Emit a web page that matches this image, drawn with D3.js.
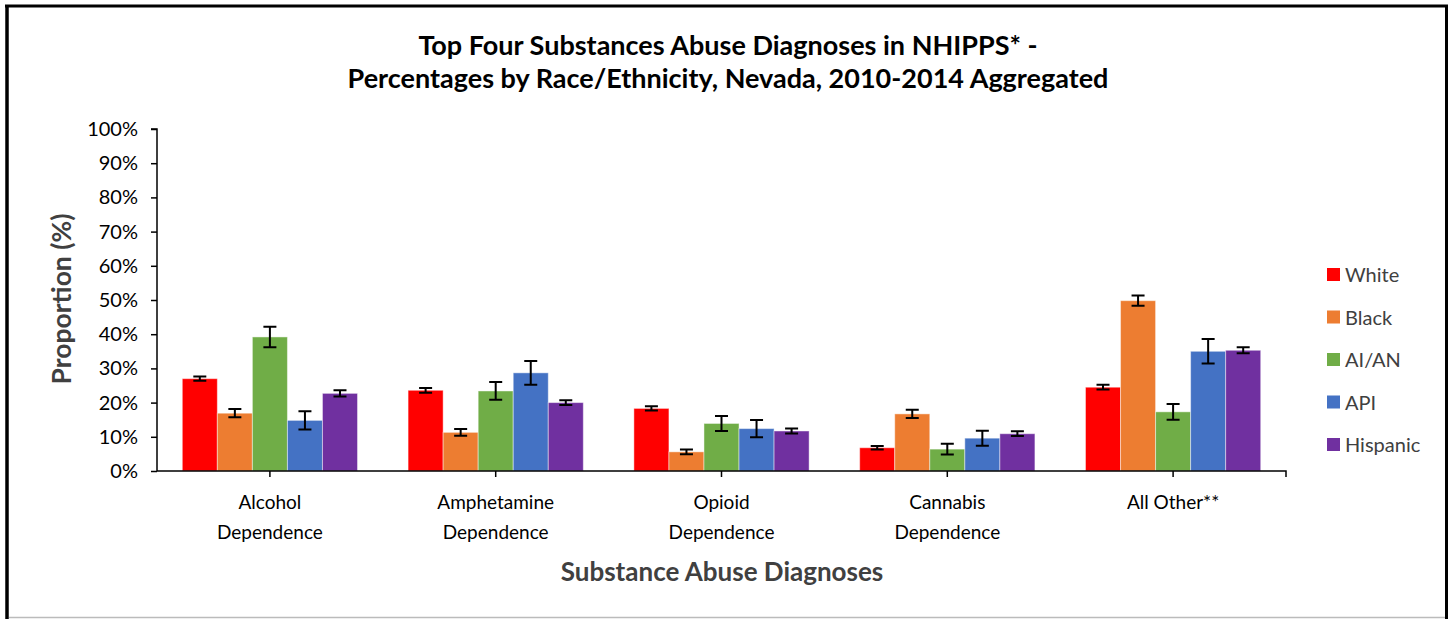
<!DOCTYPE html>
<html>
<head>
<meta charset="utf-8">
<script src="https://cdn.jsdelivr.net/npm/d3@7"></script>
<style>
  body { margin: 0; background: #fff; }
  svg { display: block; font-family: Lato, "Open Sans", sans-serif; }
</style>
</head>
<body>
<div id="chart"></div>
<script>
// categories and series
const categories = ["Alcohol Dependence", "Amphetamine Dependence", "Opioid Dependence", "Cannabis Dependence", "All Other**"];
const categoryLines = [["Alcohol", "Dependence"], ["Amphetamine", "Dependence"], ["Opioid", "Dependence"], ["Cannabis", "Dependence"], ["All Other**"]];
const races = ["White", "Black", "AI/AN", "API", "Hispanic"];
const raceColors = ["#ff0000", "#ed7d31", "#70ad47", "#4472c4", "#7030a0"];

// percentages, one array per race (order follows categories)
const white    = [27.0, 23.6, 18.3, 6.8, 24.5];
const black    = [16.9, 11.3, 5.6, 16.7, 49.8];
const aian     = [39.2, 23.4, 13.9, 6.4, 17.3];
const api      = [14.8, 28.7, 12.4, 9.6, 35.0];
const hispanic = [22.7, 20.0, 11.7, 10.9, 35.3];

// half-width of error bars (percentage points)
const whiteErr    = [0.6, 0.7, 0.6, 0.5, 0.7];
const blackErr    = [1.2, 1.0, 0.7, 1.2, 1.5];
const aianErr     = [3.0, 2.6, 2.2, 1.6, 2.3];
const apiErr      = [2.7, 3.5, 2.5, 2.2, 3.6];
const hispanicErr = [0.9, 0.7, 0.7, 0.7, 0.9];

const yTicks = [0, 10, 20, 30, 40, 50, 60, 70, 80, 90, 100];

const seriesValues = [white, black, aian, api, hispanic];
const seriesErrors = [whiteErr, blackErr, aianErr, apiErr, hispanicErr];

const width = 1450, height = 619;
const plot = {left: 157, right: 1286, top: 129, bottom: 471};

const svg = d3.select("#chart").append("svg")
    .attr("width", width)
    .attr("height", height)
    .attr("viewBox", [0, 0, width, height]);

// outer frame
svg.append("line").attr("x1", 7).attr("x2", 7).attr("y1", 5).attr("y2", 619)
    .attr("stroke", "#000").attr("stroke-width", 3.5);
svg.append("line").attr("x1", 5).attr("x2", 1448).attr("y1", 6).attr("y2", 6)
    .attr("stroke", "#000").attr("stroke-width", 3);
svg.append("line").attr("x1", 1446.5).attr("x2", 1446.5).attr("y1", 5).attr("y2", 619)
    .attr("stroke", "#000").attr("stroke-width", 3);
svg.append("line").attr("x1", 9).attr("x2", 1445).attr("y1", 617.5).attr("y2", 617.5)
    .attr("stroke", "#bbb").attr("stroke-width", 1.5);

const x0 = d3.scaleBand()
    .domain(categories)
    .range([plot.left, plot.right])
    .paddingInner(0.224)
    .paddingOuter(0.112);

const x1 = d3.scaleBand()
    .domain(races)
    .range([0, x0.bandwidth()]);

const y = d3.scaleLinear()
    .domain([0, 100])
    .range([plot.bottom, plot.top]);

const color = d3.scaleOrdinal(races, raceColors);

// title
svg.append("text")
    .attr("x", 728).attr("y", 55)
    .attr("text-anchor", "middle")
    .attr("font-weight", "bold")
    .attr("font-size", 27)
    .attr("fill", "#000")
    .text("Top Four Substances Abuse Diagnoses in NHIPPS* -");
svg.append("text")
    .attr("x", 728).attr("y", 88)
    .attr("text-anchor", "middle")
    .attr("font-weight", "bold")
    .attr("font-size", 27)
    .attr("fill", "#000")
    .text("Percentages by Race/Ethnicity, Nevada, 2010-2014 Aggregated");

// y axis
svg.append("g")
    .attr("transform", `translate(${plot.left},0)`)
    .call(d3.axisLeft(y).tickValues(yTicks).tickFormat(d => d + "%").tickSize(6).tickPadding(13))
    .call(g => g.select(".domain").attr("stroke", "#000").attr("stroke-width", 1.5).attr("d", `M-6,${plot.top}H0V${plot.bottom}`))
    .call(g => g.selectAll(".tick line").attr("stroke", "#000").attr("stroke-width", 1.5))
    .call(g => g.selectAll(".tick text")
        .attr("font-family", "Lato, 'Open Sans', sans-serif")
        .attr("font-size", 20)
        .attr("fill", "#000"));

// bars
const group = svg.append("g")
  .selectAll("g")
  .data(categories)
  .join("g")
    .attr("transform", d => `translate(${x0(d)},0)`);

const cells = group.selectAll("g")
  .data((c, ci) => races.map((r, ri) => ({race: r, value: seriesValues[ri][ci], err: seriesErrors[ri][ci]})))
  .join("g");

cells.append("rect")
    .attr("x", d => x1(d.race))
    .attr("y", d => y(d.value))
    .attr("width", x1.bandwidth())
    .attr("height", d => y(0) - y(d.value))
    .attr("fill", d => color(d.race))
    .attr("stroke", "rgba(255,255,255,0.45)")
    .attr("stroke-width", 1);

// error bars
const capHalf = 6.5;
cells.append("path")
    .attr("fill", "none")
    .attr("stroke", "#000")
    .attr("stroke-width", 2)
    .attr("d", d => {
      const cx = x1(d.race) + x1.bandwidth() / 2;
      const yHi = y(d.value + d.err), yLo = y(d.value - d.err);
      return `M${cx - capHalf},${yHi}H${cx + capHalf}M${cx},${yHi}V${yLo}M${cx - capHalf},${yLo}H${cx + capHalf}`;
    });

// x axis line with ticks at category centres and right end
const xAxis = svg.append("g");
xAxis.append("path")
    .attr("fill", "none")
    .attr("stroke", "#000")
    .attr("stroke-width", 1.5)
    .attr("d", `M${plot.left},${plot.bottom}H${plot.right}V${plot.bottom + 6}`);
xAxis.selectAll("line")
  .data(categories)
  .join("line")
    .attr("x1", d => x0(d) + x0.bandwidth() / 2)
    .attr("x2", d => x0(d) + x0.bandwidth() / 2)
    .attr("y1", plot.bottom)
    .attr("y2", plot.bottom + 6)
    .attr("stroke", "#000")
    .attr("stroke-width", 1.5);

xAxis.selectAll("text")
  .data(categories)
  .join("text")
    .attr("text-anchor", "middle")
    .attr("font-size", 19)
    .attr("fill", "#000")
    .each(function(d, i) {
      const cx = x0(d) + x0.bandwidth() / 2;
      d3.select(this).selectAll("tspan")
        .data(categoryLines[i])
        .join("tspan")
          .attr("x", cx)
          .attr("y", (t, j) => 509 + j * 30)
          .text(t => t);
    });

// axis titles
svg.append("text")
    .attr("x", 722).attr("y", 581)
    .attr("text-anchor", "middle")
    .attr("font-weight", "bold")
    .attr("font-size", 26)
    .attr("fill", "#404040")
    .text("Substance Abuse Diagnoses");

svg.append("text")
    .attr("transform", "translate(71,299) rotate(-90)")
    .attr("text-anchor", "middle")
    .attr("font-weight", "bold")
    .attr("font-size", 26.5)
    .attr("fill", "#404040")
    .text("Proportion (%)");

// legend
const legend = svg.append("g")
  .selectAll("g")
  .data(races)
  .join("g")
    .attr("transform", (d, i) => `translate(1327,${275 + i * 42.5})`);

legend.append("rect")
    .attr("x", 0).attr("y", -7)
    .attr("width", 13).attr("height", 13)
    .attr("fill", d => color(d));

legend.append("text")
    .attr("x", 18)
    .attr("y", 7)
    .attr("font-size", 20)
    .attr("fill", "#404040")
    .text(d => d);
</script>
</body>
</html>
